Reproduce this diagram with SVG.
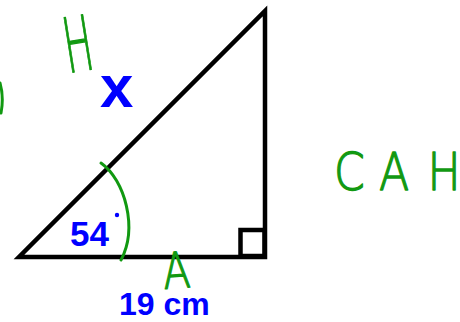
<svg xmlns="http://www.w3.org/2000/svg" width="460" height="322" viewBox="0 0 460 322">
<style>
.blue{fill:#0000ff;font-family:"Liberation Sans",Arial,sans-serif;font-weight:bold}
.hand{fill:#119911;stroke:#119911;stroke-width:1.3;stroke-linejoin:round;font-family:"DejaVu Sans","Open Sans",sans-serif;font-weight:200}
.green{fill:none;stroke:#119911;stroke-width:3;stroke-linecap:round}
</style>
<rect width="460" height="322" fill="#fff"/>
<g id="triangle">
<polygon points="19,257 265,257 265,11" fill="none" stroke="#000" stroke-width="4.5" stroke-linejoin="miter"/>
<rect x="240.5" y="230" width="24" height="26" fill="none" stroke="#000" stroke-width="4.5"/>
</g>
<g id="angle">
<path class="green" d="M101,163 C125,180 138,228 121,260"/>
<text class="blue" x="70" y="246" font-size="35">54</text>
<circle cx="117" cy="215" r="2.2" fill="#0000ff"/>
</g>
<g id="labels">
<text class="blue" x="100" y="107" font-size="60">x</text>
<text class="blue" x="119" y="315" font-size="32">19 cm</text>
<text class="hand" x="0" y="0" font-size="76" transform="translate(68,73) rotate(-9) scale(0.5,1)">H</text>
<text class="hand" x="0" y="0" font-size="50" transform="translate(164,289) rotate(-4) scale(0.8,1)">A</text>
<text class="hand" font-size="52" transform="translate(334,190) scale(0.85,1)"><tspan x="0">C</tspan><tspan x="53">A</tspan><tspan x="110">H</tspan></text>
<path class="green" d="M0,83 Q4,97 1,113"/>
</g>
</svg>
